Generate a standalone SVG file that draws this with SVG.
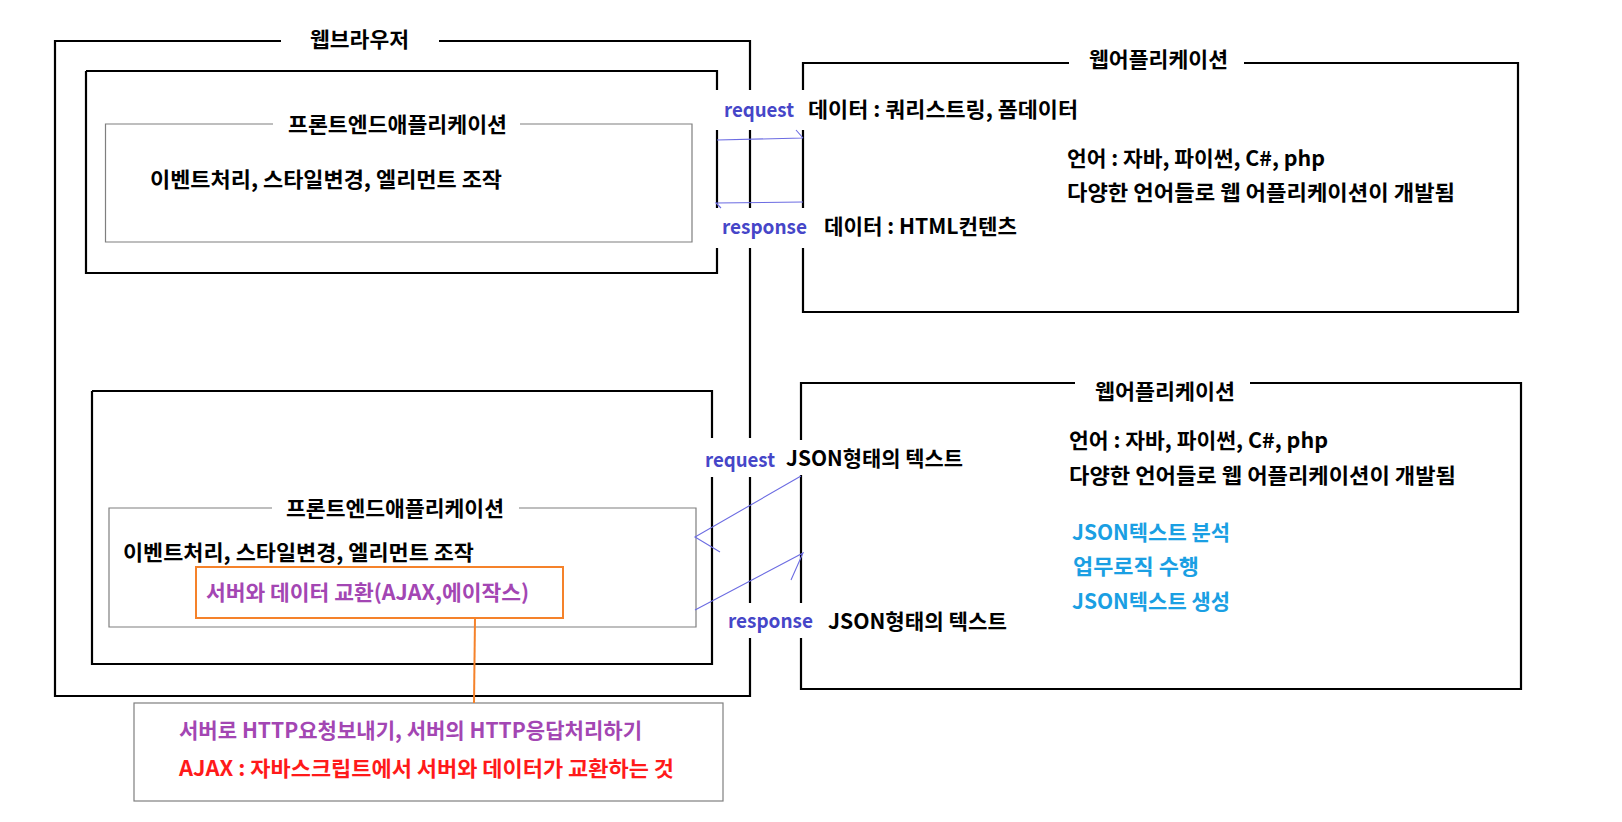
<svg xmlns="http://www.w3.org/2000/svg" width="1622" height="822" viewBox="0 0 1622 822">
<style>
  text { font-family: "Noto Sans CJK KR", "Noto Sans", sans-serif; font-weight: bold; font-size: 21px; fill: #000; }
  .blk { fill: none; stroke: #000; stroke-width: 2.2; }
  .gry { fill: none; stroke: #7f7f7f; stroke-width: 1.2; }
  .org { fill: none; stroke: #f5822a; stroke-width: 2; }
  .arr { fill: none; stroke: #6c6ce2; stroke-width: 1.1; }
  .lbl { fill: #4646c8; font-size: 20px; }
  .pur { fill: #a346b3; }
  .red { fill: #ff1a1a; }
  .cyn { fill: #1a9fe3; }
</style>
<rect width="1622" height="822" fill="#fff"/>

<g id="browser">
  <path class="blk" d="M281,41 H55 V696 H750 V638 M750,603 V477 M750,438 V248 M750,208 V130 M750,90 V41 H439"/>
  <text x="310" y="47" textLength="99" lengthAdjust="spacingAndGlyphs">웹브라우저</text>
</g>

<g id="fe-container-top">
  <path class="blk" d="M86,71 H717 V90 M717,130 V208 M717,248 V273 H86 V71"/>
</g>

<g id="fe-top">
  <path class="gry" d="M273,124 H105.5 V242 H692 V124 H520"/>
  <text x="288" y="132" textLength="219" lengthAdjust="spacingAndGlyphs">프론트엔드애플리케이션</text>
  <text x="150" y="187" textLength="352" lengthAdjust="spacingAndGlyphs">이벤트처리, 스타일변경, 엘리먼트 조작</text>
</g>

<g id="webapp-top">
  <path class="blk" d="M1069,63 H803 V90 M803,130 V208 M803,248 V312 H1518 V63 H1244"/>
  <text x="1089" y="67" textLength="139" lengthAdjust="spacingAndGlyphs">웹어플리케이션</text>
  <text x="1067" y="166" textLength="258" lengthAdjust="spacingAndGlyphs">언어 : 자바, 파이썬, C#, php</text>
  <text x="1067" y="200" textLength="388" lengthAdjust="spacingAndGlyphs">다양한 언어들로 웹 어플리케이션이 개발됨</text>
</g>

<g id="fe-container-bottom">
  <path class="blk" d="M92,391 H712 V438 M712,477 V664 H92 V391"/>
</g>

<g id="fe-bottom">
  <path class="gry" d="M272,508 H109 V627 H696 V508 H519"/>
  <text x="286" y="516" textLength="218" lengthAdjust="spacingAndGlyphs">프론트엔드애플리케이션</text>
  <text x="123" y="560" textLength="351" lengthAdjust="spacingAndGlyphs">이벤트처리, 스타일변경, 엘리먼트 조작</text>
</g>

<g id="ajax">
  <rect class="org" x="196" y="567" width="367" height="51"/>
  <text class="pur" x="206" y="600" textLength="323" lengthAdjust="spacingAndGlyphs">서버와 데이터 교환(AJAX,에이작스)</text>
</g>

<g id="note">
  <rect class="gry" x="134" y="703" width="589" height="98"/>
  <text class="pur" x="179" y="738" textLength="463" lengthAdjust="spacingAndGlyphs">서버로 HTTP요청보내기, 서버의 HTTP응답처리하기</text>
  <text class="red" x="179" y="776" textLength="495" lengthAdjust="spacingAndGlyphs">AJAX : 자바스크립트에서 서버와 데이터가 교환하는 것</text>
</g>

<g id="webapp-bottom">
  <path class="blk" d="M1075,383 H801 V440 M801,475 V603 M801,638 V689 H1521 V383 H1250"/>
  <text x="1095" y="399" textLength="140" lengthAdjust="spacingAndGlyphs">웹어플리케이션</text>
  <text x="1069" y="448" textLength="259" lengthAdjust="spacingAndGlyphs">언어 : 자바, 파이썬, C#, php</text>
  <text x="1069" y="483" textLength="387" lengthAdjust="spacingAndGlyphs">다양한 언어들로 웹 어플리케이션이 개발됨</text>
  <text class="cyn" x="1072" y="540" textLength="158" lengthAdjust="spacingAndGlyphs">JSON텍스트 분석</text>
  <text class="cyn" x="1073" y="574" textLength="126" lengthAdjust="spacingAndGlyphs">업무로직 수행</text>
  <text class="cyn" x="1072" y="609" textLength="158" lengthAdjust="spacingAndGlyphs">JSON텍스트 생성</text>
</g>

<g id="connectors">
  <path class="arr" d="M717,140 L803,138 M796,130 L803,138"/>
  <path class="arr" d="M803,202 L716,203 L721,208"/>
  <path class="arr" d="M801,476 L695,537 L720,552"/>
  <path class="arr" d="M695,610 L803,553 L791,580"/>
  <path class="org" d="M475,618 L474,703"/>
</g>

<g id="labels">
  <text class="lbl" x="724" y="117" textLength="70" lengthAdjust="spacingAndGlyphs">request</text>
  <text x="808" y="117" textLength="270" lengthAdjust="spacingAndGlyphs">데이터 : 쿼리스트링, 폼데이터</text>
  <text class="lbl" x="722" y="234" textLength="85" lengthAdjust="spacingAndGlyphs">response</text>
  <text x="824" y="234" textLength="193" lengthAdjust="spacingAndGlyphs">데이터 : HTML컨텐츠</text>
  <text class="lbl" x="705" y="467" textLength="70" lengthAdjust="spacingAndGlyphs">request</text>
  <text x="786" y="466" textLength="177" lengthAdjust="spacingAndGlyphs">JSON형태의 텍스트</text>
  <text class="lbl" x="728" y="628" textLength="85" lengthAdjust="spacingAndGlyphs">response</text>
  <text x="828" y="629" textLength="179" lengthAdjust="spacingAndGlyphs">JSON형태의 텍스트</text>
</g>
</svg>
